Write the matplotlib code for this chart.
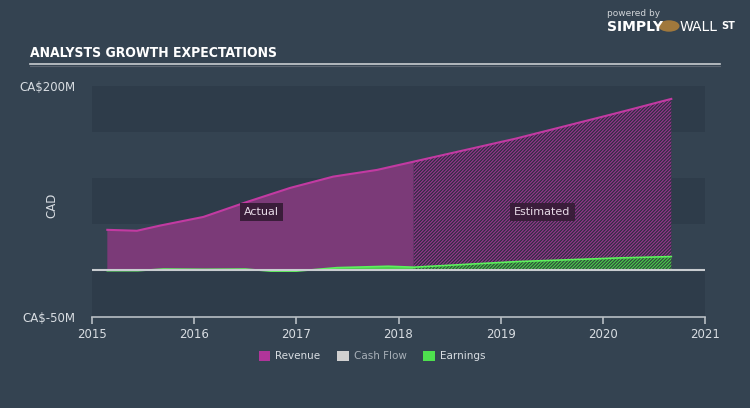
import matplotlib.pyplot as plt
from matplotlib.patches import Patch, Circle
from matplotlib.lines import Line2D

# values in CA$ millions, x in fractional years
rev_actual_x = [2015.15, 2015.44, 2015.67, 2016.09, 2016.51, 2016.94, 2017.36, 2017.79, 2018.15]
rev_actual = [44, 43, 48.7, 58, 74, 89.5, 101.7, 109, 118]
rev_est_x = [2018.15, 2019.15, 2020.15, 2020.67]
rev_est = [118, 143, 171, 186]

earn_actual_x = [2015.15, 2015.45, 2015.7, 2016.1, 2016.5, 2016.75, 2017.0, 2017.4, 2017.9, 2018.15]
earn_actual = [-0.3, -0.3, 1.5, 1.2, 1.5, -0.8, -0.8, 3, 4.5, 3.5]
earn_est_x = [2018.15, 2019.15, 2020.15, 2020.67]
earn_est = [3.5, 9.5, 13.5, 15]

years = [2015, 2016, 2017, 2018, 2019, 2020, 2021]
ytick_vals = [-50, 200]
ytick_labels = ["CA$-50M", "CA$200M"]

bg = '#344351'
band = '#2e3c4a'
txt = '#d8dde2'

plt.rcParams['font.family'] = ['DejaVu Sans']
plt.rcParams['hatch.linewidth'] = 0.8
fig = plt.figure(figsize=(7.5, 4.08), dpi=100)
fig.patch.set_facecolor(bg)
ax = fig.add_axes([92/750, 1 - 316.5/408, 613/750, 230.5/408])
ax.set_facecolor(bg)
ax.set_xlim(2015, 2021)
ax.set_ylim(-50, 200)

# alternating bands
for lo in [150, 50, -50]:
    ax.axhspan(lo, lo + 50, color=band, lw=0, zorder=0)

# revenue
ax.fill_between(rev_actual_x, 0, rev_actual, facecolor='#7b3a78', lw=0, zorder=2)
ax.fill_between(rev_est_x, 0, rev_est, facecolor='#2e2e40', edgecolor='#9a3590',
                hatch='/' * 10, lw=0, zorder=2)
ax.plot(rev_actual_x + rev_est_x[1:], rev_actual + rev_est[1:], color='#c23aa2', lw=1.5, zorder=3)

# earnings
ax.fill_between(earn_actual_x, 0, earn_actual, where=[v >= 0 for v in earn_actual],
                interpolate=True, facecolor='#4ccf4c', lw=0, zorder=4)
ax.fill_between(earn_actual_x, 0, earn_actual, where=[v < 0 for v in earn_actual],
                interpolate=True, facecolor='#c0533f', lw=0, zorder=4)
ax.fill_between(earn_est_x, 0, earn_est, facecolor='#2f4a3c', edgecolor='#4ccf4c',
                hatch='/' * 10, lw=0, zorder=4)
ax.plot(earn_actual_x + earn_est_x[1:], earn_actual + earn_est[1:], color='#5ef05e', lw=1.2, zorder=5)

ax.axhline(0, color='#c8ccd0', lw=1.5, zorder=6)

for s in ['top', 'right', 'left']:
    ax.spines[s].set_visible(False)
ax.spines['bottom'].set_color('#b8bec4')
ax.spines['bottom'].set_linewidth(1.2)
ax.set_xticks(years)
ax.set_xticklabels([str(y) for y in years])
ax.tick_params(axis='x', colors='#b8bec4', length=5, width=1.2, labelcolor=txt, labelsize=8.5)
ax.set_yticks(ytick_vals)
ax.set_yticklabels(ytick_labels)
ax.tick_params(axis='y', length=0, labelcolor=txt, labelsize=8.5, pad=12)
fig.text(52/750, 1 - 205/408, 'CAD', color=txt, fontsize=8.5, rotation=90, ha='center', va='center')

box = dict(boxstyle='square,pad=0.35', facecolor='#3a1d3a', edgecolor='none')
ax.text(2016.66, 63, 'Actual', color='#e8dce8', fontsize=8, ha='center', va='center', bbox=box, zorder=7)
ax.text(2019.41, 63, 'Estimated', color='#e8dce8', fontsize=8, ha='center', va='center', bbox=box, zorder=7)

# title and rule
fig.text(30/750, 1 - 53/408, 'ANALYSTS GROWTH EXPECTATIONS', color='white', fontsize=10,
         fontweight='bold', fontstretch='condensed',
         family=['DejaVu Sans'], va='center')
fig.add_artist(Line2D([30/750, 720/750], [1 - 64/408] * 2, color='#c8ccd0', lw=1.2))
fig.add_artist(Line2D([30/750, 720/750], [1 - 66/408] * 2, color='#5a6470', lw=0.8))

# logo
fig.text(607/750, 1 - 14/408, 'powered by', color='#d0d4d8', fontsize=6.5, va='center')
fig.text(607/750, 1 - 27/408, 'SIMPLY', color='white', fontsize=10, fontweight='bold', va='center')
fig.add_artist(Circle((669/750, 1 - 26/408), 0.014, transform=fig.transFigure, facecolor='#a0783c',
                      edgecolor='none'))
fig.text(680/750, 1 - 27/408, 'WALL', color='white', fontsize=10, va='center')
fig.text(721/750, 1 - 26/408, 'ST', color='white', fontsize=7, fontweight='bold', va='center')

# legend
handles = [Patch(facecolor='#b0359a'), Patch(facecolor='#d0d0d0'), Patch(facecolor='#4ee04e')]
leg = fig.legend(handles, ['Revenue', 'Cash Flow', 'Earnings'], loc='center',
                 bbox_to_anchor=(372/750, 1 - 356/408), ncol=3, frameon=False, fontsize=7.5,
                 handlelength=1.1, handleheight=1.1, columnspacing=1.6, handletextpad=0.5)
for t, c in zip(leg.get_texts(), [txt, '#a8b0b8', txt]):
    t.set_color(c)

fig.savefig('out.png', dpi=100, facecolor=fig.get_facecolor())
